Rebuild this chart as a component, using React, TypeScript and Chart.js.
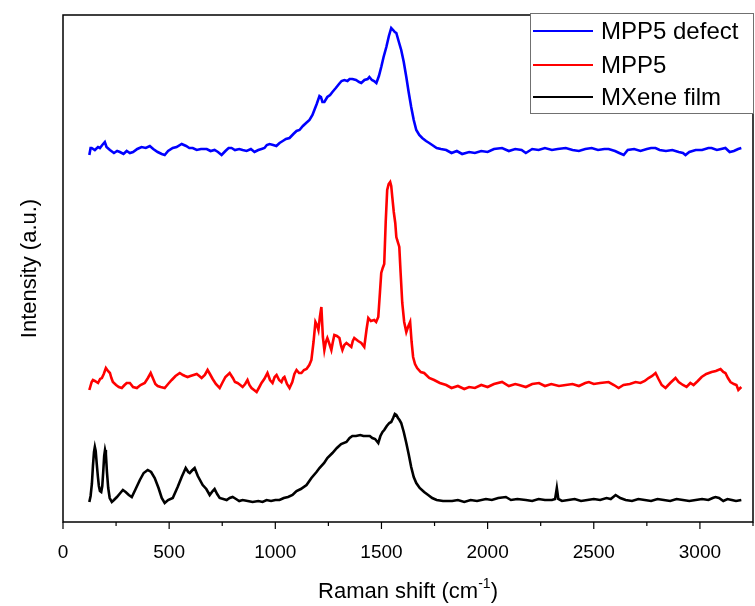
import React, { useEffect, useRef } from 'react';
import { Chart, registerables } from 'chart.js';

Chart.register(...registerables);

// Raman shift (cm-1) and intensity (a.u., stacked offsets)
const blueShift = [124,130,135,150,165,174,185,197,205,221,240,255,268,285,300,315,330,350,370,390,409,425,446,465,479,495,517,535,559,580,595,611,630,650,677,695,714,730,747,765,780,794,810,830,846,865,885,902,920,935,949,960,973,990,1005,1020,1035,1050,1067,1085,1100,1114,1130,1145,1161,1175,1184,1195,1208,1215,1222,1231,1245,1258,1269,1285,1300,1312,1325,1340,1350,1363,1380,1395,1405,1420,1435,1443,1455,1465,1476,1488,1499,1510,1523,1535,1546,1555,1563,1570,1582,1593,1605,1617,1628,1640,1652,1664,1678,1692,1710,1725,1739,1760,1780,1805,1830,1855,1880,1913,1940,1970,2000,2030,2068,2100,2130,2160,2180,2210,2240,2270,2303,2330,2368,2400,2430,2460,2490,2520,2550,2570,2600,2620,2641,2660,2690,2720,2750,2770,2791,2810,2840,2870,2900,2920,2932,2950,2980,3010,3040,3055,3080,3100,3120,3140,3160,3180,3195];
const blueIntensity = [367,374,374,372,375,374,377,380,375,372,369,371,370,368,371,369,370,373,375,374,376,373,370,368,367,371,374,375,378,376,374,374,372,373,373,371,372,370,367,371,374,374,372,373,372,371,373,370,372,373,374,377,378,377,376,379,381,383,384,388,391,392,396,399,402,407,412,418,426,425,420,420,425,427,430,434,438,441,442,441,443,443,442,440,439,442,443,445,442,441,439,446,455,465,475,486,494,492,490,489,480,472,460,445,430,415,402,392,387,384,381,379,377,374,373,372,369,371,368,370,369,371,370,373,374,371,373,372,369,373,372,374,372,373,374,372,371,373,374,372,373,373,371,369,367,372,373,371,373,374,374,372,371,372,370,369,367,370,372,372,374,374,372,373,374,370,371,373,374];

const redShift = [124,135,141,150,165,175,183,192,202,212,221,228,235,250,263,277,290,300,315,330,348,365,385,400,413,425,435,446,460,479,495,512,530,550,565,575,587,600,615,630,642,653,668,681,692,705,720,738,750,765,785,800,810,822,835,846,858,869,878,888,900,912,925,935,948,963,975,987,997,1006,1018,1029,1037,1043,1055,1067,1080,1090,1100,1112,1123,1135,1147,1160,1170,1180,1189,1196,1203,1210,1217,1224,1231,1238,1245,1255,1264,1271,1278,1290,1302,1310,1316,1325,1335,1347,1358,1365,1372,1390,1405,1412,1419,1430,1438,1450,1466,1475,1485,1493,1499,1506,1513,1520,1527,1534,1541,1546,1551,1558,1565,1570,1574,1580,1584,1590,1598,1607,1617,1625,1635,1642,1649,1658,1668,1685,1701,1725,1748,1775,1805,1830,1860,1890,1913,1940,1970,2000,2030,2068,2100,2130,2148,2180,2210,2242,2270,2300,2336,2368,2400,2430,2460,2477,2500,2530,2570,2595,2617,2640,2670,2697,2720,2740,2758,2775,2791,2805,2820,2838,2860,2885,2900,2920,2937,2955,2970,2990,3008,3030,3055,3075,3097,3110,3120,3132,3144,3160,3172,3181,3195];
const redIntensity = [132,140,142,141,139,143,144,148,154,151,149,144,140,137,135,134,137,139,139,135,134,137,139,144,149,143,138,136,135,134,138,142,146,149,147,146,145,146,147,148,146,144,147,152,148,143,138,134,139,145,149,144,140,139,137,135,138,142,137,134,132,130,135,139,143,149,142,139,145,147,142,140,144,145,138,134,140,148,152,149,149,152,153,157,162,180,200,197,192,205,215,185,172,180,184,178,172,180,187,186,184,176,172,177,179,177,175,181,184,181,179,177,175,193,204,201,202,200,205,230,249,254,258,300,332,338,340,336,325,310,299,285,282,278,275,250,219,200,190,195,200,180,165,158,154,150,149,144,142,139,137,134,136,133,135,134,137,135,138,140,136,138,137,135,138,139,136,138,136,137,138,136,139,140,138,139,140,137,134,137,138,140,139,141,144,146,149,143,137,134,139,144,140,137,135,139,137,141,145,148,150,151,153,150,149,144,140,138,137,132,135];

const blackShift = [124,130,136,141,146,150,154,159,164,169,174,180,185,190,194,198,202,207,213,220,230,240,254,270,282,295,310,324,340,362,380,399,415,432,450,465,479,495,517,540,559,578,590,597,610,620,635,658,675,691,705,714,726,738,755,771,785,799,815,830,846,870,893,920,940,959,980,1000,1020,1040,1060,1081,1100,1120,1147,1170,1194,1208,1230,1245,1269,1290,1310,1335,1350,1363,1380,1400,1415,1429,1445,1457,1470,1485,1495,1505,1513,1525,1537,1546,1555,1563,1570,1578,1585,1593,1605,1617,1628,1640,1652,1664,1680,1701,1720,1739,1760,1790,1833,1860,1890,1920,1950,1992,2020,2050,2086,2110,2140,2180,2210,2240,2270,2303,2318,2326,2333,2350,2380,2410,2440,2470,2500,2530,2560,2580,2603,2625,2650,2680,2710,2740,2770,2800,2830,2860,2890,2920,2950,2980,3010,3040,3060,3073,3090,3110,3130,3150,3170,3195];
const blackIntensity = [20,26,38,56,70,75,71,58,46,36,31,30,36,52,66,72,68,50,34,24,20,22,25,29,32,30,27,25,32,42,49,52,50,44,34,24,19,22,24,35,45,54,50,49,52,54,46,37,33,27,31,33,28,24,23,22,24,25,23,21,22,21,20,21,20,22,21,22,22,24,25,27,31,33,37,44,50,54,59,64,69,74,78,80,84,86,86,87,86,86,86,84,83,79,86,90,92,96,99,100,104,108,107,104,102,99,90,79,68,55,45,39,34,30,27,24,22,21,21,22,20,22,21,23,22,24,25,22,23,22,21,23,22,22,23,34,23,21,22,23,21,22,23,22,24,23,27,24,22,21,23,22,21,23,22,21,23,22,21,22,23,22,24,25,24,21,23,22,21,22];

const seriesNames = ['MPP5 defect', 'MPP5', 'MXene film'];
const seriesColors = ['#0000ff', '#ff0000', '#000000'];
const xTickValues = [0, 500, 1000, 1500, 2000, 2500, 3000];
const xMin = 0;
const xMax = 3250;
const yMax = 507;

const FONT = '"Liberation Sans", Arial, Helvetica, sans-serif';

const toPoints = (xs: number[], ys: number[]) => xs.map((x, i) => ({ x, y: ys[i] }));

const decorPlugin = {
  id: 'decor',
  afterDraw(chart: any) {
    const { ctx, chartArea: a, scales } = chart;
    const xs = scales.x;
    ctx.save();
    // frame
    ctx.strokeStyle = '#000';
    ctx.lineWidth = 1.5;
    ctx.strokeRect(a.left, a.top, a.right - a.left, a.bottom - a.top);
    // ticks
    ctx.lineWidth = 1.2;
    for (let v = xMin; v <= xMax; v += 250) {
      const px = xs.getPixelForValue(v);
      const len = v % 500 === 0 ? 7 : 4;
      ctx.beginPath();
      ctx.moveTo(px, a.bottom);
      ctx.lineTo(px, a.bottom + len);
      ctx.stroke();
    }
    // x title with superscript
    ctx.fillStyle = '#000';
    ctx.textBaseline = 'alphabetic';
    ctx.textAlign = 'left';
    const main = 'Raman shift (cm';
    const sup = '-1';
    const close = ')';
    ctx.font = `22px ${FONT}`;
    const wMain = ctx.measureText(main).width;
    const wClose = ctx.measureText(close).width;
    ctx.font = `14px ${FONT}`;
    const wSup = ctx.measureText(sup).width;
    const total = wMain + wSup + wClose;
    let tx = (a.left + a.right) / 2 - total / 2;
    const ty = 598;
    ctx.font = `22px ${FONT}`;
    ctx.fillText(main, tx, ty);
    tx += wMain;
    ctx.font = `14px ${FONT}`;
    ctx.fillText(sup, tx, ty - 10);
    tx += wSup;
    ctx.font = `22px ${FONT}`;
    ctx.fillText(close, tx, ty);
    // y title
    ctx.save();
    ctx.translate(30, (a.top + a.bottom) / 2);
    ctx.rotate(-Math.PI / 2);
    ctx.textAlign = 'center';
    ctx.textBaseline = 'middle';
    ctx.font = `22px ${FONT}`;
    ctx.fillText('Intensity (a.u.)', 0, 0);
    ctx.restore();
    // legend
    const bx = 530, by = 13, bw = 224, bh = 101;
    ctx.fillStyle = '#fff';
    ctx.fillRect(bx, by, bw, bh);
    ctx.strokeStyle = '#707070';
    ctx.lineWidth = 1;
    ctx.strokeRect(bx + 0.5, by + 0.5, bw - 1, bh - 1);
    const rows = [31, 65, 97];
    ctx.font = `24px ${FONT}`;
    ctx.textBaseline = 'middle';
    ctx.textAlign = 'left';
    seriesNames.forEach((name, i) => {
      ctx.strokeStyle = seriesColors[i];
      ctx.lineWidth = 2;
      ctx.beginPath();
      ctx.moveTo(533, rows[i]);
      ctx.lineTo(593, rows[i]);
      ctx.stroke();
      ctx.fillStyle = '#000';
      ctx.fillText(name, 601, rows[i] + 1);
    });
    ctx.restore();
  },
};

export default function App() {
  const ref = useRef<HTMLCanvasElement | null>(null);
  useEffect(() => {
    document.body.style.margin = '0';
    if (!ref.current) return;
    const chart = new Chart(ref.current, {
      type: 'line',
      data: {
        datasets: [
          { label: seriesNames[0], data: toPoints(blueShift, blueIntensity), borderColor: seriesColors[0], borderWidth: 2.6, pointRadius: 0, tension: 0 },
          { label: seriesNames[1], data: toPoints(redShift, redIntensity), borderColor: seriesColors[1], borderWidth: 2.6, pointRadius: 0, tension: 0 },
          { label: seriesNames[2], data: toPoints(blackShift, blackIntensity), borderColor: seriesColors[2], borderWidth: 2.6, pointRadius: 0, tension: 0 },
        ],
      },
      options: {
        animation: false,
        responsive: false,
        maintainAspectRatio: false,
        layout: { padding: { left: 0, right: 2, top: 15, bottom: 0 } },
        plugins: { legend: { display: false }, tooltip: { enabled: false } },
        scales: {
          x: {
            type: 'linear',
            min: xMin,
            max: xMax,
            afterBuildTicks: (axis: any) => {
              axis.ticks = xTickValues.map((v) => ({ value: v }));
            },
            afterFit: (axis: any) => {
              axis.height = 84;
            },
            grid: { display: false, drawTicks: false },
            border: { display: false },
            ticks: {
              padding: 19,
              color: '#000',
              font: { family: FONT, size: 19 },
              maxRotation: 0,
              autoSkip: false,
              callback: (v: any) => String(v),
            },
          },
          y: {
            type: 'linear',
            min: 0,
            max: yMax,
            afterFit: (axis: any) => {
              axis.width = 63;
            },
            grid: { display: false, drawTicks: false },
            border: { display: false },
            ticks: { display: false },
          },
        },
      },
      plugins: [decorPlugin],
    });
    return () => chart.destroy();
  }, []);
  return (
    <div style={{ width: 755, height: 606 }}>
      <canvas ref={ref} width={755} height={606} style={{ display: 'block' }} />
    </div>
  );
}
